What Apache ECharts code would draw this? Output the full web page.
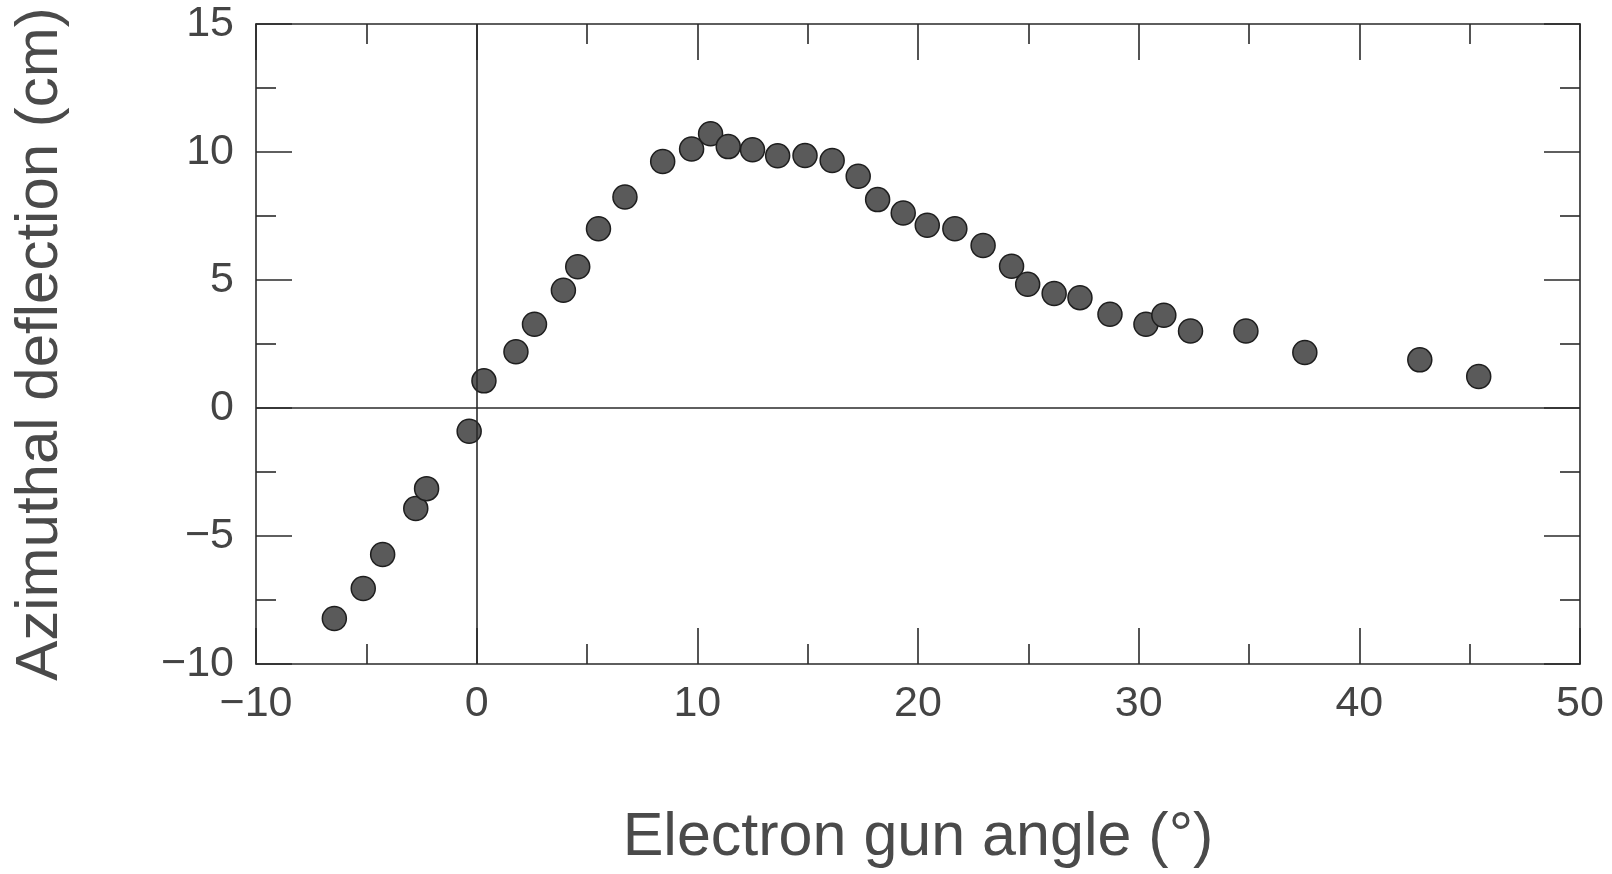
<!DOCTYPE html>
<html>
<head>
<meta charset="utf-8">
<script src="https://cdn.jsdelivr.net/npm/echarts@6/dist/echarts.min.js"></script>
<style>
html,body{margin:0;padding:0;background:#fff;}
#chart{width:1612px;height:874px;}
</style>
</head>
<body>
<div id="chart"></div>
<script>
// Electron gun angle (degrees)
var gunAngle = [-6.45, -5.14, -4.26, -2.76, -2.27, -0.34, 0.33, 1.78, 2.62, 3.93, 4.58, 5.52, 6.72, 8.43, 9.74, 10.6, 11.4, 12.5, 13.64, 14.88, 16.11, 17.29, 18.17, 19.33, 20.42, 21.67, 22.95, 24.24, 24.97, 26.17, 27.34, 28.7, 30.33, 31.14, 32.35, 34.86, 37.53, 42.74, 45.41];
// Azimuthal deflection (cm)
var deflection = [-8.22, -7.05, -5.72, -3.93, -3.15, -0.91, 1.06, 2.2, 3.27, 4.6, 5.52, 7.0, 8.24, 9.63, 10.12, 10.71, 10.21, 10.09, 9.85, 9.86, 9.67, 9.05, 8.14, 7.62, 7.14, 7.0, 6.35, 5.54, 4.83, 4.47, 4.31, 3.66, 3.27, 3.62, 3.01, 3.01, 2.17, 1.88, 1.23];
var xTicks = {min: -10, max: 50, step: 10};
var yTicks = {min: -10, max: 15, step: 5};
var xTitle = 'Electron gun angle (°)';
var yTitle = 'Azimuthal deflection (cm)';

var points = gunAngle.map(function (x, i) { return [x, deflection[i]]; });
var fontFam = '"Liberation Sans", Arial, Helvetica, sans-serif';
var lineCol = '#2a2a2a';
function fmt(v) { return String(v).replace('-', '\u2212'); }

function makeAxis(t, pos, show, extra) {
  var a = {
    type: 'value', position: pos, min: t.min, max: t.max, interval: t.step,
    axisLine: {show: true, onZero: false, lineStyle: {color: lineCol, width: 1.6}},
    axisTick: {show: true, inside: true, length: 36, lineStyle: {color: lineCol, width: 1.6}},
    minorTick: {show: true, splitNumber: 2, length: 20, lineStyle: {color: lineCol, width: 1.6}},
    splitLine: {show: false},
    minorSplitLine: {show: false},
    axisLabel: {show: show, formatter: fmt, color: '#444', fontSize: 43, fontFamily: fontFam}
  };
  for (var k in extra) a[k] = extra[k];
  return a;
}

var chart = echarts.init(document.getElementById('chart'));
chart.setOption({
  animation: false,
  backgroundColor: '#fff',
  grid: {left: 256, right: 32, top: 24, bottom: 208},
  xAxis: [
    makeAxis(xTicks, 'bottom', true, {
      name: xTitle, nameLocation: 'middle', nameGap: 144,
      nameTextStyle: {color: '#4a4a4a', fontSize: 61, fontFamily: fontFam},
      axisLabel: {show: true, formatter: fmt, color: '#444', fontSize: 43, fontFamily: fontFam, margin: 19}
    }),
    makeAxis(xTicks, 'top', false, {})
  ],
  yAxis: [
    makeAxis(yTicks, 'left', true, {
      name: yTitle, nameLocation: 'middle', nameGap: 186, nameRotate: 90,
      nameTextStyle: {color: '#4a4a4a', fontSize: 60, fontFamily: fontFam},
      axisLabel: {show: true, formatter: fmt, color: '#444', fontSize: 43, fontFamily: fontFam, margin: 22}
    }),
    makeAxis(yTicks, 'right', false, {})
  ],
  series: [{
    type: 'scatter',
    xAxisIndex: 0, yAxisIndex: 0,
    data: points,
    symbol: 'circle',
    symbolSize: 24,
    itemStyle: {color: '#5a5a5a', borderColor: '#1e1e1e', borderWidth: 1.5, opacity: 1},
    markLine: {
      silent: true, symbol: 'none', animation: false,
      label: {show: false},
      lineStyle: {color: lineCol, width: 1.6, type: 'solid'},
      data: [{xAxis: 0}, {yAxis: 0}]
    },
    z: 3
  }]
});
</script>
</body>
</html>
